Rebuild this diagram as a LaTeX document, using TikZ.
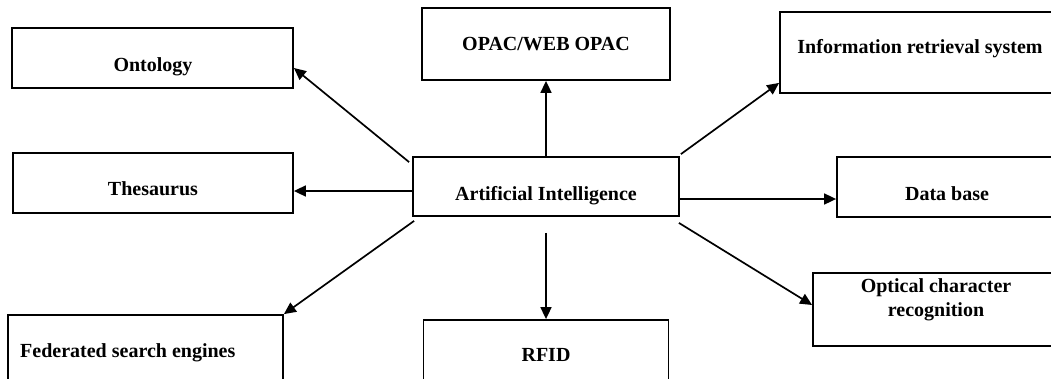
\documentclass[tikz,border=0pt]{standalone}
\usepackage{fontspec}
\setmainfont{Liberation Serif}
\usetikzlibrary{arrows.meta,calc}
\begin{document}
\begin{tikzpicture}[x=1pt,y=-1pt,
  box/.style={draw=black,line width=1.8pt,rectangle,inner sep=0pt,fill=white},
  lbl/.style={anchor=base,inner sep=0pt,font=\fontsize{20}{24}\selectfont\bfseries},
  arr/.style={line width=1.7pt,-{Triangle[length=12pt,width=11pt]}}]
\clip (0,0) rectangle (1051,378);
\fill[white] (0,0) rectangle (1051,378);
% boxes
\node[box,minimum width=281pt,minimum height=60pt] (ont) at (152.5,58) {};
\node[box,minimum width=280pt,minimum height=60pt] (the) at (153,183) {};
\node[box,minimum width=248pt,minimum height=72pt] (opac) at (546,44) {};
\node[box,minimum width=266pt,minimum height=59pt] (ai) at (546,186.5) {};
\node[box,minimum width=280pt,minimum height=81pt] (ir) at (920,52.5) {};
\node[box,minimum width=220pt,minimum height=60pt] (db) at (947,187) {};
\node[box,minimum width=246pt,minimum height=73pt] (ocr) at (936,309.5) {};
\node[box,minimum width=275pt,minimum height=85pt] (fed) at (145.5,357.5) {};
\node[box,minimum width=245pt,minimum height=80pt] (rfid) at (546,360) {};
% labels
\node[lbl] (tont) at (153,71) {Ontology};
\node[lbl] (tthe) at (153,195) {Thesaurus};
\node[lbl] (topac) at (546,50) {OPAC/WEB OPAC};
\node[lbl] (tai) at (546,200) {Artificial Intelligence};
\node[lbl] (tir) at (920,53) {Information retrieval system};
\node[lbl] (tdb) at (947,200) {Data base};
\node[lbl] (tocr1) at (936,292) {Optical character};
\node[lbl] (tocr2) at (936,316) {recognition};
\node[lbl,anchor=base west] (tfed) at (20,357) {Federated search engines};
\node[lbl] (trfid) at (546,361) {RFID};
% arrows
\draw[arr] ($(ai.north west)+(-3,6)$) -- ($(ont.east)+(0,10)$);
\draw[arr] ($(ai.west)+(0,4.5)$) -- ($(the.east)+(0,8)$);
\draw[arr] (ai.north) -- (opac.south);
\draw[arr] ($(ai.north east)+(1,-2)$) -- ($(ir.south west)+(0,-11)$);
\draw[arr] ($(ai.east)+(0,12.5)$) -- ($(db.west)+(0,12)$);
\draw[arr] ($(ai.south east)+(-1,6)$) -- ($(ocr.west)+(0,-4.5)$);
\draw[arr] ($(ai.south west)+(2,4)$) -- (fed.north east);
\draw[arr] ($(ai.south)+(0,16)$) -- (rfid.north);
\end{tikzpicture}
\end{document}
